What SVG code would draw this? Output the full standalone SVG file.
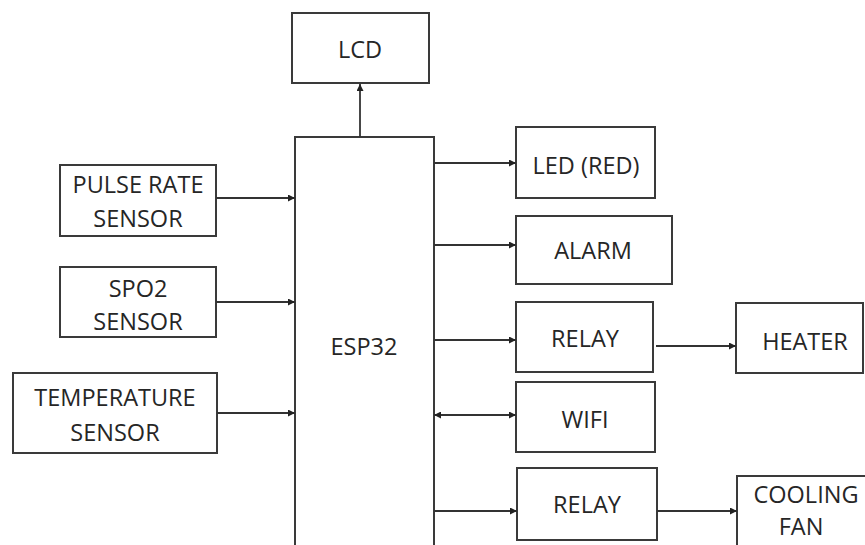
<svg xmlns="http://www.w3.org/2000/svg" width="865" height="545" viewBox="0 0 865 545">
<style>
.box{fill:#fff;stroke:#3a3a3a;stroke-width:2}
.t{font-family:"Open Sans","Liberation Sans",sans-serif;font-size:23.5px;fill:#262626;text-anchor:middle}
.c{stroke:#333;stroke-width:1.8;fill:none}
</style>
<defs>
<marker id="ah" viewBox="0 0 10 10" refX="10" refY="5" markerWidth="9" markerHeight="7" markerUnits="userSpaceOnUse" orient="auto-start-reverse">
<path d="M0,0 L10,5 L0,10 z" fill="#222"/>
</marker>
</defs>
<rect width="865" height="545" fill="#fff"/>
<g id="lcd"><rect class="box" x="292" y="13" width="137" height="70"/><text class="t" x="360" y="58">LCD</text></g>
<g id="esp32"><rect class="box" x="295" y="137" width="139" height="430"/><text class="t" x="364" y="355">ESP32</text></g>
<g id="pulse"><rect class="box" x="60" y="165" width="156" height="71"/><text class="t" x="138" y="193">PULSE RATE</text><text class="t" x="138" y="227">SENSOR</text></g>
<g id="spo2"><rect class="box" x="60" y="267" width="156" height="70"/><text class="t" x="138" y="297">SPO2</text><text class="t" x="138" y="330">SENSOR</text></g>
<g id="temp"><rect class="box" x="13" y="373" width="204" height="80"/><text class="t" x="115" y="406">TEMPERATURE</text><text class="t" x="115" y="441">SENSOR</text></g>
<g id="led"><rect class="box" x="516" y="127" width="139" height="71"/><text class="t" x="586" y="174">LED (RED)</text></g>
<g id="alarm"><rect class="box" x="516" y="216" width="156" height="68"/><text class="t" x="593" y="259">ALARM</text></g>
<g id="relay1"><rect class="box" x="516" y="302" width="137" height="70"/><text class="t" x="585" y="347">RELAY</text></g>
<g id="heater"><rect class="box" x="736" y="303" width="127" height="70"/><text class="t" x="805" y="350">HEATER</text></g>
<g id="wifi"><rect class="box" x="516" y="382" width="139" height="70"/><text class="t" x="585" y="428">WIFI</text></g>
<g id="relay2"><rect class="box" x="517" y="468" width="140" height="72"/><text class="t" x="587" y="513">RELAY</text></g>
<g id="fan"><rect class="box" x="737" y="476" width="130" height="80"/><text class="t" x="806" y="503">COOLING</text><text class="t" x="801" y="535">FAN</text></g>
<g id="connectors">
<line class="c" x1="360" y1="137" x2="360" y2="84" marker-end="url(#ah)"/>
<line class="c" x1="216" y1="198" x2="295" y2="198" marker-end="url(#ah)"/>
<line class="c" x1="216" y1="302" x2="295" y2="302" marker-end="url(#ah)"/>
<line class="c" x1="217" y1="413" x2="295" y2="413" marker-end="url(#ah)"/>
<line class="c" x1="434" y1="163" x2="516" y2="163" marker-end="url(#ah)"/>
<line class="c" x1="434" y1="245" x2="516" y2="245" marker-end="url(#ah)"/>
<line class="c" x1="434" y1="340" x2="516" y2="340" marker-end="url(#ah)"/>
<line class="c" x1="434" y1="415" x2="516" y2="415" marker-start="url(#ah)" marker-end="url(#ah)"/>
<line class="c" x1="434" y1="511" x2="517" y2="511" marker-end="url(#ah)"/>
<line class="c" x1="656" y1="346" x2="736" y2="346" marker-end="url(#ah)"/>
<line class="c" x1="657" y1="511" x2="737" y2="511" marker-end="url(#ah)"/>
</g>
</svg>
